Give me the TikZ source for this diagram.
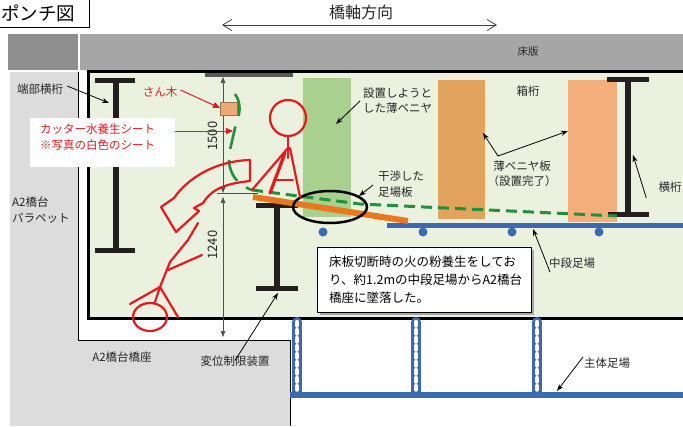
\documentclass[tikz,border=0pt]{standalone}
\usepackage{fontspec}
\setmainfont{Noto Sans CJK JP}
\usetikzlibrary{arrows.meta,calc,shapes.geometric}

\definecolor{slabgray}{HTML}{A6A6A6}
\definecolor{slabdark}{HTML}{8E8E8E}
\definecolor{abutgray}{HTML}{DCDCDC}
\definecolor{boxfill}{HTML}{EBF1DF}
\definecolor{plygreen}{HTML}{A9D08E}
\definecolor{plyorange}{HTML}{E2A35E}
\definecolor{plysalmon}{HTML}{F2AF7C}
\definecolor{plankorange}{HTML}{E8771E}
\definecolor{sheetgreen}{HTML}{23903C}
\definecolor{scafblue}{HTML}{3D69B1}
\definecolor{figred}{HTML}{E8191E}
\definecolor{beamdark}{HTML}{231F20}
\definecolor{dimgray}{HTML}{505050}

\tikzset{
  lbl/.style={font=\fontsize{11.5}{16}\selectfont, text=black!85},
  redlbl/.style={font=\fontsize{11.5}{16}\selectfont, text=figred},
  ptr/.style={-{Stealth[length=7pt,width=5pt]}, line width=0.8pt, black},
  redptr/.style={-{Triangle[length=7pt,width=6pt]}, line width=1pt, figred},
  flange/.style={line width=5pt, beamdark},
  web/.style={line width=6.5pt, beamdark},
  dimline/.style={{Triangle[length=6pt,width=4.5pt]}-{Triangle[length=6pt,width=4.5pt]}, line width=0.7pt, dimgray},
  figline/.style={line width=2.2pt, figred, line cap=round},
  chainouter/.style={line width=10pt, scafblue, line cap=round},
  chaininner/.style={line width=4.5pt, white, line cap=round, dash pattern=on 3.5pt off 4.5pt},
  dot/.style={circle, fill=scafblue, minimum size=9pt},
}

\begin{document}
\begin{tikzpicture}[x=1pt, y=-1pt, every node/.style={inner sep=0pt}]
\useasboundingbox (0,0) rectangle (683,426);
\fill[white] (0,0) rectangle (683,426);

% abutment and parapet (light gray)
\fill[abutgray] (10,72) rectangle (78,426);
\fill[abutgray] (78,340) rectangle (290,426);

% deck slab
\fill[slabdark] (8,34) rectangle (78,70);
\fill[slabgray] (80,34) rectangle (683,70);
\node[lbl, font=\fontsize{10.5}{12}\selectfont] (deck) at (528,52) {床版};

% box girder interior
\fill[boxfill] (88,71) rectangle (690,318);
\fill[black!65] (205,73) rectangle (293,77);
\draw[line width=1pt] (78,72) -- (78,340) -- (290,340) -- (290,426);

% plywood panels
\fill[plygreen] (303,78) rectangle (351,217);
\fill[plyorange] (438,80) rectangle (485,219);
\fill[plysalmon] (568,80) rectangle (617,222);

\draw[line width=3pt] (690,71) -- (88,71) -- (88,318) -- (690,318);

% cross beams
\draw[flange] (95,80) -- (135,80);
\draw[web] (116,80) -- (116,250);
\draw[flange] (95,250) -- (135,250);

\draw[flange] (607,79) -- (649,79);
\draw[web] (628,79) -- (628,214);
\draw[flange] (608,214) -- (649,214);

\draw[flange] (256,205) -- (298,205);
\draw[web] (277,205) -- (277,288);
\draw[flange] (256,288) -- (298,288);

% intermediate scaffold
\draw[scafblue, line width=5pt] (387,225) -- (690,225);
\foreach \n/\xx in {d1/323, d2/423, d3/512, d4/599}
  \node[dot] (\n) at (\xx,232) {};

% fallen scaffold plank and sheet line
\draw[plankorange, line width=6pt] (253,197) -- (408,221);
\draw[sheetgreen, line width=3pt, dash pattern=on 11pt off 6pt] (252,190) -- (360,204) -- (617,216);
\draw[sheetgreen, line width=2.6pt, dash pattern=on 23pt off 11pt]
  (235,94) .. controls (242,104) and (240,114) .. (235,128)
  -- (230,150) .. controls (226,168) and (234,184) .. (252,190);

% dimensions
\coordinate (dtop) at (223,77);
\coordinate (dmid) at (223,193);
\coordinate (dmid2) at (223,197);
\coordinate (dbot) at (223,337);
\draw[dimline] (dtop) -- (dmid);
\draw[dimline] (dmid2) -- (dbot);
\draw[dimgray, line width=0.7pt] (217,193) -- (258,193);
\node[lbl, font=\fontsize{13}{14}\selectfont, rotate=90] (d1500) at (213,136) {1500};
\node[lbl, font=\fontsize{13}{14}\selectfont, rotate=90] (d1240) at (213,245) {1240};

% interference ellipse
\node[draw=black, line width=2.5pt, ellipse, minimum width=74pt, minimum height=32pt] (ring) at (330,207) {};

% batten
\fill[plysalmon!90!brown] (220,102) rectangle (237,115);
\draw[plyorange!70!black, line width=0.5pt] (220,102) rectangle (237,115);

% worker before the fall
\draw[figline] (288,118) circle (18);
\draw[figline] (288,136) -- (288,158);
\draw[figline] (288,148) -- (252,190);
\draw[figline, line width=3.2pt] (285,153) -- (270,193);
\draw[figline] (290,148) -- (300,197);
\draw[figline] (274,180) -- (293,180);

% fall direction arrow
\draw[figred, line width=2.2pt, line join=round]
  (250,160) .. controls (215,161) and (188,178) .. (174,198)
  -- (161,207) -- (176,232) -- (199,211) -- (194,208) -- (203,203)
  .. controls (210,192) and (220,184) .. (250,181) -- cycle;

% worker after the fall
\draw[figline] (198,223) -- (188,240) -- (170,262) -- (160,287) -- (155,302);
\draw[figline] (168,270) -- (202,255);
\draw[figline] (130,304) -- (160,287) -- (178,317);
\draw[figline] (150,317) ellipse (17 and 14);

% labels with pointers
\node[lbl] (endbeam) at (40,89) {端部横桁};
\coordinate (endbeamT) at (109,103);
\draw[ptr] ([xshift=4pt,yshift=3pt]endbeam.east) -- (endbeamT);

\node[lbl, align=left, anchor=north west] (parapet) at (12,197) {A2橋台\\パラペット};

\node[redlbl] (batten) at (160,92) {さん木};
\coordinate (battenT) at (220,108);
\draw[redptr] ([xshift=3pt,yshift=2pt]batten.east) -- (battenT);

\fill[white] (30,118) rectangle (175,167);
\node[redlbl, align=left, anchor=north west] (sheet) at (40,124) {カッター水養生シート\\※写真の白色のシート};
\coordinate (sheetS) at (175,131);
\coordinate (sheetT) at (233,131);
\draw[redptr] (sheetS) -- (sheetT);

\node[lbl, align=left, anchor=north west, font=\fontsize{11.5}{15}\selectfont] (plyplan) at (363,88) {設置しようと\\した薄ベニヤ};
\coordinate (plyplanT) at (336,124);
\draw[ptr] (360,101) -- (plyplanT);

\node[lbl] (boxgirder) at (528,91) {箱桁};

\node[lbl, align=center, font=\fontsize{11.5}{15}\selectfont] (plydone) at (522,174) {薄ベニヤ板\\（設置完了）};
\coordinate (plyfork) at (498,156);
\coordinate (plydoneA) at (483,133);
\coordinate (plydoneB) at (568,131);
\draw[ptr] (plyfork) -- (plydoneA);
\draw[ptr] (plyfork) -- (plydoneB);

\node[lbl, align=left, anchor=north west, font=\fontsize{11.5}{16}\selectfont] (plank) at (378,171) {干渉した\\足場板};
\coordinate (plankT) at (359,196);
\draw[ptr] (373,185) -- (plankT);

\node[lbl] (crossbeam) at (670,187) {横桁};
\coordinate (crossbeamT) at (633,155);
\draw[ptr] ([xshift=-12pt,yshift=-11pt]crossbeam.west) -- (crossbeamT);

\node[lbl] (midscaf) at (572,263) {中段足場};
\coordinate (midscafT) at (533,229);
\draw[ptr] ([xshift=-22pt,yshift=-9pt]midscaf.center) -- (midscafT);

\node[lbl] (stopper) at (235,361) {変位制限装置};
\coordinate (stopperT) at (278,293);
\draw[ptr] ([yshift=-5pt]stopper.north) -- (stopperT);

\node[lbl] (seat) at (122,357) {A2橋台橋座};

% accident note
\fill[black!35] (320,250) rectangle (534,315);
\draw[fill=white, line width=0.8pt] (317,247) rectangle (531,312);
\node[lbl, align=left, anchor=north west, font=\fontsize{12.5}{18}\selectfont, text=black] (note) at (329,256)
  {床板切断時の火の粉養生をしてお\\り、約1.2mの中段足場からA2橋台\\橋座に墜落した。};

% main scaffold and chains
\foreach \xx in {297,416,537} {
  \draw[chainouter] (\xx,322) -- (\xx,392);
  \draw[chaininner] (\xx,322) -- (\xx,392);
}
\draw[scafblue, line width=6pt] (290,395) -- (690,395);
\node[lbl] (mainscaf) at (607,363) {主体足場};
\coordinate (mainscafT) at (557,391);
\draw[ptr] ([xshift=-24pt,yshift=6pt]mainscaf.center) -- (mainscafT);

% title
\draw[line width=0.8pt] (-1,27) -- (89,27) -- (89,-1);
\node[anchor=west, font=\fontsize{18.5}{20}\selectfont] (title) at (1,13) {ポンチ図};

% bridge axis
\node[font=\fontsize{16}{18}\selectfont, text=black!85] (axis) at (361,12) {橋軸方向};
\coordinate (axisL) at (222,25);
\coordinate (axisR) at (497,25);
\draw[{Straight Barb[length=9pt,width=11pt]}-{Straight Barb[length=9pt,width=11pt]}, line width=0.8pt, black!75] (axisL) -- (axisR);
\end{tikzpicture}
\end{document}
